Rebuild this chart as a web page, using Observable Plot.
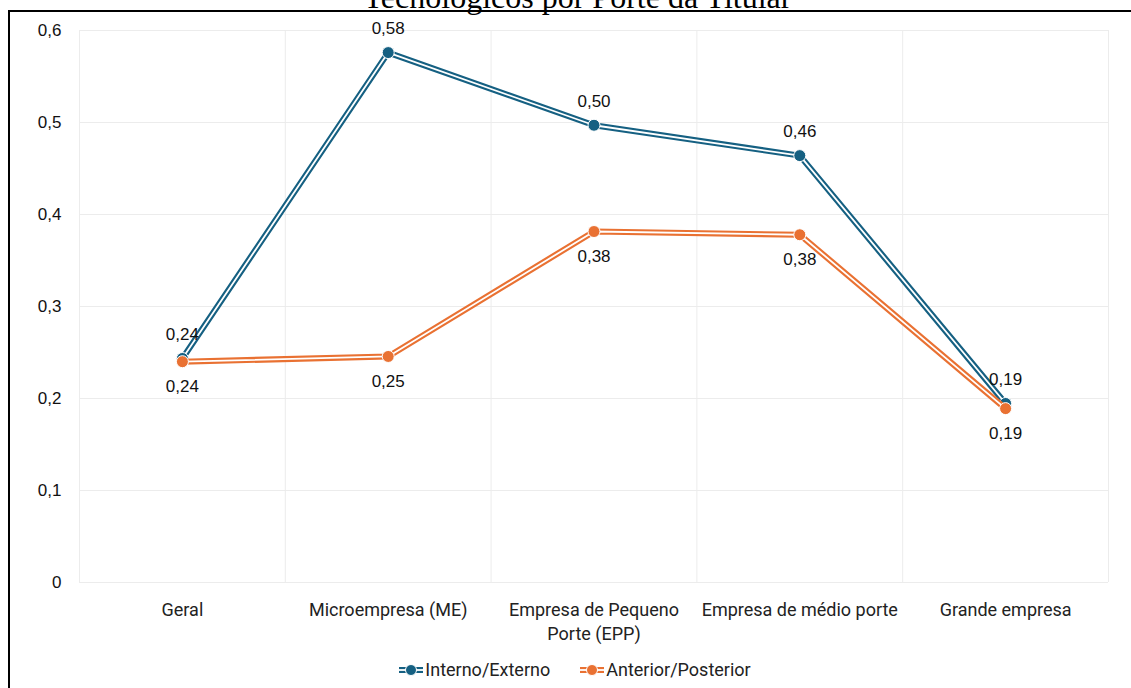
<!DOCTYPE html>
<html><head><meta charset="utf-8">
<script src="https://cdn.jsdelivr.net/npm/d3@7"></script>
<script src="https://cdn.jsdelivr.net/npm/@observablehq/plot@0.6"></script>
<style>
body{margin:0;background:#fff;}
#wrap{position:relative;width:1131px;height:688px;overflow:hidden;background:#fff;}
#frame{position:absolute;left:8px;top:10px;width:1300px;height:900px;border-left:2.5px solid #000;border-top:2.5px solid #000;box-sizing:border-box;}
#title{position:absolute;left:0;width:1155px;top:-19px;text-align:center;font-family:"Liberation Serif","Times New Roman",serif;font-size:32px;line-height:32px;color:#000;white-space:nowrap;}
#chart{position:absolute;left:0;top:0;}
#legend{position:absolute;top:658px;left:0;width:1150px;display:flex;justify-content:center;gap:30px;font-family:Roboto,"Liberation Sans",sans-serif;font-size:18px;color:#222;line-height:24px;}
.item{display:flex;align-items:center;gap:2px;}
</style></head>
<body><div id="wrap"><div id="frame"></div><div id="title">Tecnológicos por Porte da Titular</div><div id="chart"></div><div id="legend"></div></div>
<script>
const categories = ["Geral", "Microempresa (ME)", "Empresa de Pequeno\nPorte (EPP)", "Empresa de médio porte", "Grande empresa"];
const seriesNames = ["Interno/Externo", "Anterior/Posterior"];
const interno = [0.2435, 0.576, 0.497, 0.464, 0.1946];
const anterior = [0.240, 0.2457, 0.3815, 0.378, 0.189];
const colors = ["#156082", "#E97132"];
const yTicks = [0, 0.1, 0.2, 0.3, 0.4, 0.5, 0.6];

const fmt = v => d3.format(".2f")(v).replace(".", ",");
const rows = s => (s === 0 ? interno : anterior).map((v, i) => ({i, v, s}));
const dataI = rows(0), dataA = rows(1);
const idx = categories.map((_, i) => i);
const bounds = [-0.5, 0.5, 1.5, 2.5, 3.5, 4.5];

function seriesMarks(data, color) {
  return [
    Plot.line(data, {x: "i", y: "v", stroke: color, strokeWidth: 6, strokeLinejoin: "miter"}),
    Plot.line(data, {x: "i", y: "v", stroke: "#fff", strokeWidth: 1.8, strokeLinejoin: "miter"}),
    Plot.dot(data, {x: "i", y: "v", r: 6, fill: color, stroke: "#fff", strokeWidth: 1})
  ];
}
function labelMarks(data, dy) {
  return Plot.text(data, {x: "i", y: "v", text: d => fmt(d.v), dy, fontSize: 17, fill: "#111", fontFamily: "Liberation Sans, Arial, sans-serif"});
}

const chart = Plot.plot({
  width: 1131, height: 645,
  marginLeft: 79, marginRight: 23, marginTop: 30, marginBottom: 63,
  style: {background: "transparent", fontFamily: "Roboto, Liberation Sans, sans-serif", color: "#222"},
  x: {type: "linear", domain: [-0.5, 4.5]},
  y: {domain: [0, 0.6]},
  marks: [
    Plot.gridY(yTicks, {stroke: "#ececec", strokeOpacity: 1, strokeWidth: 1}),
    Plot.gridX(bounds, {stroke: "#ececec", strokeOpacity: 1, strokeWidth: 1}),
    Plot.axisY(yTicks, {tickSize: 0, tickPadding: 18, fontSize: 17, fontFamily: "Liberation Sans, Arial, sans-serif", tickFormat: d => d === 0 ? "0" : String(d).replace(".", ","), label: null, fill: "#111"}),
    Plot.axisX(idx, {tickSize: 0, tickPadding: 16, fontSize: 18, lineHeight: 1.35, tickFormat: i => categories[i], label: null, fill: "#222"}),
    ...seriesMarks(dataI, colors[0]),
    ...seriesMarks(dataA, colors[1]),
    labelMarks(dataI, -24),
    labelMarks(dataA, 25)
  ]
});
document.getElementById("chart").appendChild(chart);

const legend = document.getElementById("legend");
seriesNames.forEach((name, k) => {
  const item = document.createElement("div");
  item.className = "item";
  item.innerHTML = `<svg width="24" height="14"><line x1="0" x2="24" y1="7" y2="7" stroke="${colors[k]}" stroke-width="6"/><line x1="0" x2="24" y1="7" y2="7" stroke="#fff" stroke-width="1.8"/><circle cx="12" cy="7" r="5.5" fill="${colors[k]}" stroke="#fff" stroke-width="1"/></svg><span>${name}</span>`;
  legend.appendChild(item);
});
</script></body></html>
